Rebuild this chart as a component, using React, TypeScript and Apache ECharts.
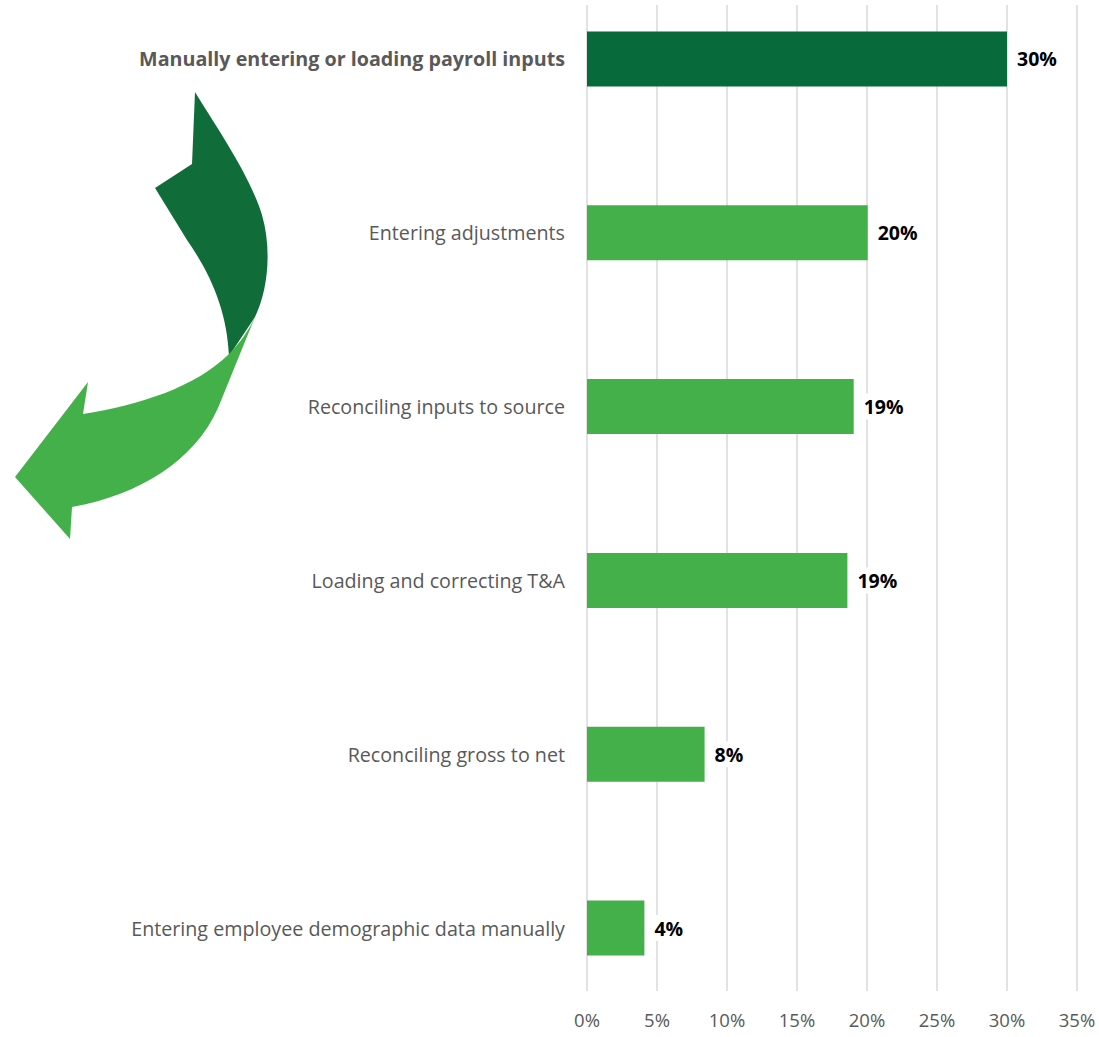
import React, { useEffect, useRef } from "react";
import * as echarts from "echarts";

const categories = [
  "Manually entering or loading payroll inputs",
  "Entering adjustments",
  "Reconciling inputs to source",
  "Loading and correcting T&A",
  "Reconciling gross to net",
  "Entering employee demographic data manually",
];
const values = [30, 20.05, 19.05, 18.6, 8.4, 4.1];
const tickMax = 35;
const tickStep = 5;

const DARK = "#076A3A";
const LIGHT = "#44B04A";
const SHIFT = 28;

echarts.graphic.registerShape(
  "arrowDark",
  echarts.graphic.extendPath(
    "M195,92 C215,125 250,175 262,215 C272,250 268,290 255,317 L229,356 C227,312 212,276 187,240 L155,188 L192,164 Z",
    {}
  )
);
echarts.graphic.registerShape(
  "arrowLight",
  echarts.graphic.extendPath(
    "M255,317 L218,408 C195,460 140,495 72,507 L70,539 L15,477 L88,382 L83,414 C140,405 195,387 228,355 C240,343 249,330 255,317 Z",
    {}
  )
);

export default function App() {
  const ref = useRef<HTMLDivElement>(null);
  useEffect(() => {
    if (!ref.current) return;
    const chart = echarts.init(ref.current, null, { renderer: "svg" });
    const font = "'Open Sans', 'Noto Sans', sans-serif";
    chart.setOption({
      animation: false,
      textStyle: { fontFamily: font },
      grid: [
        { left: 587, right: 22, top: 0, height: 1043, containLabel: false },
        { left: 587, right: 22, top: 5 + SHIFT, height: 986, containLabel: false },
      ],
      xAxis: [
        { type: "value", gridIndex: 0, min: 0, max: tickMax, show: false },
        {
          type: "value",
          gridIndex: 1,
          min: 0,
          max: tickMax,
          interval: tickStep,
          axisLine: { show: false },
          axisTick: { show: false },
          splitLine: { show: true, lineStyle: { color: "#d9d9d9", width: 1.5 } },
          axisLabel: {
            formatter: "{value}%",
            color: "#595959",
            fontSize: 18.5,
            margin: 19,
            fontFamily: font,
          },
        },
      ],
      yAxis: [
        {
          type: "category",
          gridIndex: 0,
          inverse: true,
          data: categories,
          axisLine: { show: false },
          axisTick: { show: false },
          splitLine: { show: false },
          axisLabel: {
            margin: 22,
            fontSize: 19.7,
            color: "#595959",
            fontFamily: font,
            formatter: (v: string, i: number) => (i === 0 ? `{b|${v}}` : v),
            rich: {
              b: { fontWeight: "bold", fontSize: 19.7, color: "#595959", fontFamily: font },
            },
          },
        },
        { type: "value", gridIndex: 1, show: false, min: 0, max: 1 },
      ],
      series: [
        {
          type: "bar",
          xAxisIndex: 0,
          yAxisIndex: 0,
          barWidth: 55,
          z: 3,
          data: values.map((v, i) => ({
            value: v,
            itemStyle: { color: i === 0 ? DARK : LIGHT },
          })),
          label: {
            show: true,
            position: "right",
            distance: 5,
            formatter: (p: any) => `${Math.round(p.value)}%`,
            color: "#000",
            fontWeight: "bold",
            fontSize: 19.5,
            fontFamily: font,
            backgroundColor: "#fff",
            padding: [3, 5],
          },
        },
      ],
      graphic: [
        { type: "arrowDark", x: 0, y: SHIFT, style: { fill: "#106D3A" }, z: 10 },
        { type: "arrowLight", x: 0, y: SHIFT, style: { fill: "#43B04A" }, z: 11 },
      ],
    });
    return () => chart.dispose();
  }, []);
  return (
    <div
      ref={ref}
      style={{ position: "absolute", left: 0, top: -SHIFT, width: 1099, height: 1037 + SHIFT, background: "#fff" }}
    />
  );
}
